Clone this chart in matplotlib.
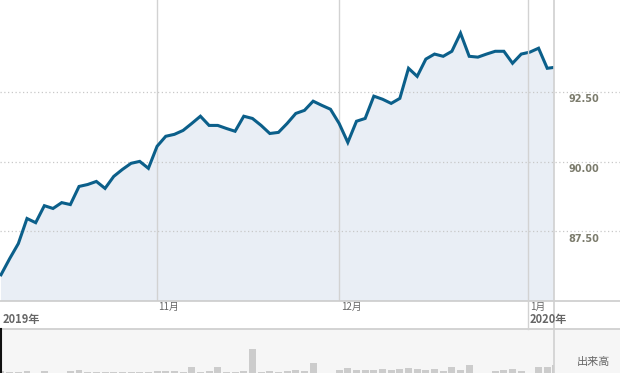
import matplotlib
matplotlib.use("Agg")
import matplotlib.pyplot as plt
from matplotlib.lines import Line2D
import numpy as np

plt.rcParams['font.family'] = ['Noto Sans CJK JP', 'DejaVu Sans']

# daily closes, Oct 2019 - early Jan 2020
prices = [
    85.94, 86.52, 87.06, 87.96, 87.81, 88.42, 88.32, 88.53, 88.46, 89.11,
    89.18, 89.29, 89.04, 89.47, 89.72, 89.94, 90.01, 89.76, 90.55, 90.91,
    90.98, 91.12, 91.37, 91.63, 91.30, 91.30, 91.19, 91.09, 91.63, 91.55,
    91.30, 91.01, 91.05, 91.37, 91.73, 91.84, 92.17, 92.02, 91.88, 91.37,
    90.69, 91.45, 91.55, 92.35, 92.24, 92.09, 92.27, 93.35, 93.06, 93.68,
    93.86, 93.78, 93.96, 94.61, 93.78, 93.75, 93.86, 93.96, 93.96, 93.53,
    93.86, 93.93, 94.07, 93.35, 93.39,
]
volumes = [
    2, 1.3, 1.3, 2, 0, 2, 0, 0, 2, 3,
    1.3, 1.3, 1.3, 1.3, 1.3, 1.3, 1.3, 1.3, 2, 2,
    2, 1, 6, 1, 2, 6, 1, 1, 2, 24,
    1, 2, 1, 2, 3, 2, 10, 0, 0, 3,
    5, 3, 3, 3, 4, 3, 4, 5, 4, 3,
    4, 2, 6, 3, 8, 0, 0, 2, 3, 4,
    2, 0, 6, 6, 8,
]
month_start_idx = [18, 39, 60.8]
month_labels = ["11月", "12月", "1月"]
year_labels = [(0, "2019年"), (60.8, "2020年")]
price_ticks = [87.50, 90.00, 92.50]

W, H = 620, 373
fig = plt.figure(figsize=(W / 100, H / 100), dpi=100)
fig.patch.set_facecolor("white")

plot_w = 554 / W
main_bottom = (H - 301) / H
ax = fig.add_axes([0, main_bottom, plot_w, 1 - main_bottom])
vol_ax = fig.add_axes([0, 0, plot_w, 44 / H])

x = np.arange(len(prices))
xlim = (-0.115, 63.78)

# price panel
ax.fill_between(x, prices, 80, color="#e9eef5", lw=0)
ax.plot(x, prices, color="#0b5f8a", lw=2.2, solid_joinstyle="miter", zorder=4)
ax.set_xlim(*xlim)
ax.set_ylim(85.0, 95.8)
ax.set_axis_off()

for v in price_ticks:
    ax.axhline(v, xmin=0, xmax=W / 554, color="#c8c8c8", lw=0.9,
               ls=(0, (1, 2)), clip_on=False, zorder=1)
    ax.annotate(f"{v:.2f}", xy=(1, v), xycoords=("axes fraction", "data"),
                xytext=(10.5, -1.8), textcoords="offset points",
                ha="left", va="top", fontsize=7, fontweight="bold",
                color="#7b7b6c", family="DejaVu Sans", annotation_clip=False)

for i in month_start_idx[:2]:
    ax.axvline(i, color="#d2d2d2", lw=1, zorder=2)

# volume panel
vol_ax.set_facecolor("#f6f6f6")
vol_ax.bar(x, volumes, width=0.8, color="#cccccc", lw=0)
vol_ax.set_xlim(*xlim)
vol_ax.set_ylim(0, 44)
for s in vol_ax.spines.values():
    s.set_visible(False)
vol_ax.set_xticks([])
vol_ax.set_yticks([])

# volume background to the right of the plot
fig.add_artist(plt.Rectangle((plot_w, 0), 1 - plot_w, 44 / H,
                             transform=fig.transFigure, color="#f6f6f6", lw=0, zorder=0))


def px(xp, yp):
    return xp / W, 1 - yp / H


# frame lines
line_col = "#cccccc"
for yp in (301, 329):
    fig.add_artist(Line2D([0, 1], [1 - yp / H] * 2, color=line_col, lw=1.2))
fig.add_artist(Line2D([plot_w] * 2, [0, 1], color="#d0d0d0", lw=1.2))
fig.add_artist(Line2D([0.6 / W] * 2, [0, 44 / H], color="#111111", lw=1.5))


def idx_to_px(i):
    return (i - xlim[0]) / (xlim[1] - xlim[0]) * 554


x_jan = idx_to_px(month_start_idx[2])
fig.add_artist(Line2D([x_jan / W] * 2, [1 - 329 / H, 1], color="#d2d2d2", lw=1))

# month and year labels
for i, lab in zip(month_start_idx, month_labels):
    xp = idx_to_px(i)
    fig.text(*px(xp + 1.5, 307), lab, fontsize=7, color="#666666",
             ha="left", va="center")
for i, lab in year_labels:
    xp = idx_to_px(i) if i else 2
    fig.text(*px(xp + 1, 320), lab, fontsize=8, color="#666666",
             fontweight="bold", ha="left", va="center")

fig.text(*px(593, 362), "出来高", fontsize=8, color="#666666",
         ha="center", va="center")

fig.savefig("out.png", dpi=100)
